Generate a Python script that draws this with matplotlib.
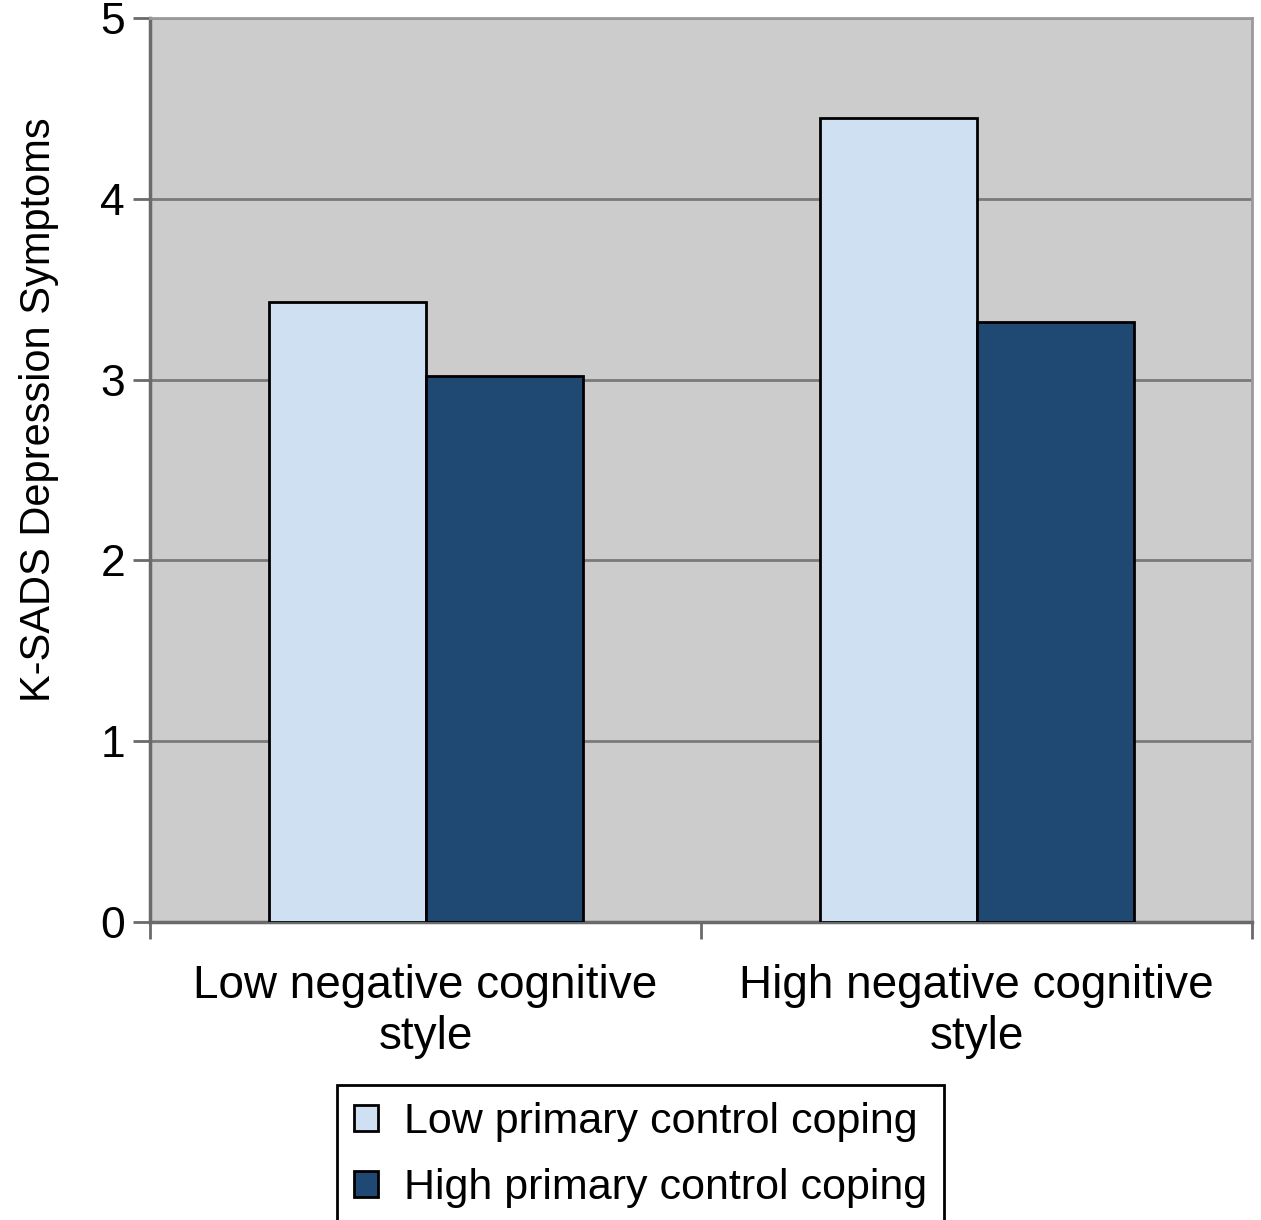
import numpy as np
import matplotlib.pyplot as plt
from matplotlib.patches import Patch

plt.rcParams["font.family"] = ["Liberation Sans", "DejaVu Sans"]

categories = ["Low negative cognitive\nstyle", "High negative cognitive\nstyle"]
series_names = ["Low primary control coping", "High primary control coping"]
low_coping = [3.43, 4.45]
high_coping = [3.02, 3.32]

light = "#cfe0f2"
dark = "#1f4872"
width = 0.285

fig = plt.figure(figsize=(12.61, 12.2), dpi=100)
ax = fig.add_axes([0.119, 0.2443, 0.874, 0.7407])
ax.set_facecolor("#cccccc")

x = np.arange(len(categories))
ax.bar(x, low_coping, width=-width, align="edge", color=light,
       edgecolor="black", linewidth=2, zorder=3)
ax.bar(x, high_coping, width=width, align="edge", color=dark,
       edgecolor="black", linewidth=2, zorder=3)

ax.set_xlim(-0.5, 1.5)
ax.set_ylim(0, 5)
ax.set_yticks(range(6))
ax.yaxis.grid(True, color="#7a7a7a", linewidth=2, zorder=1)
ax.set_axisbelow(True)

# category labels between boundary ticks
ax.set_xticks([-0.5, 0.5, 1.5])
ax.set_xticklabels([])
ax.set_xticks(x, minor=True)
ax.set_xticklabels(categories, minor=True, fontsize=33, linespacing=1.22)
ax.tick_params(axis="x", which="minor", length=0, pad=30)
ax.tick_params(axis="x", which="major", length=12, width=2, color="#6a6a6a")
ax.tick_params(axis="y", length=12, width=2, color="#6a6a6a",
               labelsize=32, pad=6)

for side in ["left", "bottom"]:
    ax.spines[side].set_color("#6a6a6a")
    ax.spines[side].set_linewidth(2.5)
for side in ["top", "right"]:
    ax.spines[side].set_color("#9a9a9a")
    ax.spines[side].set_linewidth(2)

ax.set_ylabel("K-SADS Depression Symptoms", fontsize=30, labelpad=30)
ax.yaxis.label.set_y(0.567)

handles = [Patch(facecolor=light, edgecolor="black", linewidth=2),
           Patch(facecolor=dark, edgecolor="black", linewidth=2)]
leg = fig.legend(handles, series_names, loc="upper center",
                 bbox_to_anchor=(0.508, 0.111), fontsize=31,
                 handlelength=0.55, handleheight=0.55, handletextpad=0.6,
                 labelspacing=0.62, borderpad=0.4, borderaxespad=0,
                 fancybox=False, framealpha=1, edgecolor="black")
leg.get_frame().set_linewidth(2)

fig.savefig("out.png", dpi=100)
